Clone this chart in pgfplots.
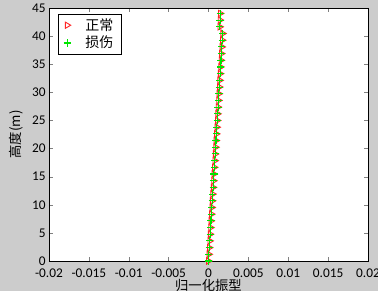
\documentclass[border=0pt]{standalone}
\usepackage{pgfplots}
\pgfplotsset{compat=1.18}
\usepackage{fontspec}
\setmainfont{Carlito}
\newfontfamily\cjk{Noto Sans CJK SC}
\definecolor{figbg}{RGB}{204,204,204}
\begin{document}
\begin{tikzpicture}
\fill[figbg] (0,0) rectangle (283.5pt,218.25pt);
\clip (0,0) rectangle (283.5pt,218.25pt);
\begin{axis}[
  at={(36.75pt,22.5pt)}, anchor=south west,
  scale only axis, width=239.25pt, height=189.75pt,
  axis background/.style={fill=white},
  xmin=-0.02, xmax=0.02, ymin=0, ymax=45,
  scaled x ticks=false,
  xtick={-0.02,-0.015,-0.01,-0.005,0,0.005,0.01,0.015,0.02},
  xticklabels={-0.02,-0.015,-0.01,-0.005,0,0.005,0.01,0.015,0.02},
  ytick={0,5,...,45},
  tick align=inside, major tick length=3pt,
  /pgf/number format/assume math mode=true,
  tick label style={font=\fontsize{10}{11}\selectfont},
  xticklabel style={yshift=-2pt},
  yticklabel style={xshift=1pt},
  xlabel={\cjk 归一化振型}, ylabel={\cjk 高度(m)},
  label style={font=\fontsize{10}{11}\selectfont},
  xlabel style={yshift=5.5pt},
  ylabel style={yshift=0pt},
  legend style={at={(0.028,0.976)}, anchor=north west, draw=black, font=\cjk\fontsize{10.5}{12}\selectfont, inner xsep=4pt, inner ysep=1pt, row sep=-1pt},
  legend cell align=left,
]
\addplot[red, thin, forget plot] coordinates {
(0,0) (0.00005,1.19) (0.00010,2.38) (0.00016,3.57) (0.00021,4.76) (0.00026,5.95)
(0.00031,7.14) (0.00037,8.33) (0.00042,9.52) (0.00047,10.71) (0.00052,11.90)
(0.00058,13.09) (0.00063,14.28) (0.00068,15.47) (0.00073,16.66) (0.00079,17.85)
(0.00084,19.04) (0.00089,20.23) (0.00094,21.42) (0.00099,22.61) (0.00105,23.80)
(0.00110,24.99) (0.00115,26.18) (0.00120,27.37) (0.00126,28.56) (0.00131,29.75)
(0.00136,30.94) (0.00141,32.13) (0.00147,33.32) (0.00152,34.51) (0.00157,35.70)
(0.00162,36.89) (0.00168,38.08) (0.00173,39.27) (0.00178,40.46) (0.00142,41.65)
(0.00145,42.84) (0.00148,44.03)};
\addplot[only marks, red!85!white, mark=triangle, mark size=2.7pt, mark options={rotate=-90, line width=0.7pt}] coordinates {
(0,0) (0.00005,1.19) (0.00010,2.38) (0.00016,3.57) (0.00021,4.76) (0.00026,5.95)
(0.00031,7.14) (0.00037,8.33) (0.00042,9.52) (0.00047,10.71) (0.00052,11.90)
(0.00058,13.09) (0.00063,14.28) (0.00068,15.47) (0.00073,16.66) (0.00079,17.85)
(0.00084,19.04) (0.00089,20.23) (0.00094,21.42) (0.00099,22.61) (0.00105,23.80)
(0.00110,24.99) (0.00115,26.18) (0.00120,27.37) (0.00126,28.56) (0.00131,29.75)
(0.00136,30.94) (0.00141,32.13) (0.00147,33.32) (0.00152,34.51) (0.00157,35.70)
(0.00162,36.89) (0.00168,38.08) (0.00173,39.27) (0.00178,40.46) (0.00142,41.65)
(0.00145,42.84) (0.00148,44.03)};
\addlegendentry{\hspace{9pt}正常}
\addplot[only marks, color=green!90!black, mark=+, mark size=2.7pt, mark options={line width=0.8pt, draw=green!90!black}] coordinates {
(0,0) (0.00005,1.19) (0.00010,2.38) (0.00016,3.57) (0.00021,4.76) (0.00026,5.95)
(0.00031,7.14) (0.00037,8.33) (0.00042,9.52) (0.00047,10.71) (0.00052,11.90)
(0.00058,13.09) (0.00063,14.28) (0.00068,15.47) (0.00073,16.66) (0.00079,17.85)
(0.00084,19.04) (0.00089,20.23) (0.00094,21.42) (0.00099,22.61) (0.00105,23.80)
(0.00110,24.99) (0.00115,26.18) (0.00120,27.37) (0.00126,28.56) (0.00131,29.75)
(0.00136,30.94) (0.00141,32.13) (0.00147,33.32) (0.00152,34.51) (0.00157,35.70)
(0.00162,36.89) (0.00168,38.08) (0.00173,39.27) (0.00178,40.46) (0.00142,41.65)
(0.00145,42.84) (0.00148,44.03)};
\addlegendentry{\hspace{9pt}损伤}
\end{axis}
\end{tikzpicture}
\end{document}
